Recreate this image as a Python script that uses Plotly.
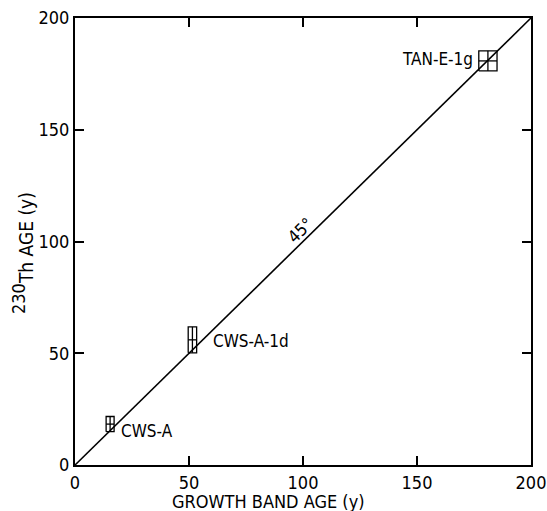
import plotly.graph_objects as go

# Coral samples: growth-band age vs 230Th age, with error boxes
names = ["CWS-A", "CWS-A-1d", "TAN-E-1g"]
band_age = [15.4, 51.5, 181.1]
band_err = [1.75, 1.85, 4.0]
th_age = [18.3, 56.0, 180.8]
th_err = [3.4, 5.8, 4.5]

ticks = [0, 50, 100, 150, 200]
FONT = "Liberation Sans Narrow, DejaVu Sans Condensed, Arial Narrow, Liberation Sans, sans-serif"

fig = go.Figure()

# 1:1 reference line
fig.add_trace(go.Scatter(x=[0, 200], y=[0, 200], mode="lines",
                         line=dict(color="black", width=1.6), hoverinfo="skip"))

# error boxes with a centre cross
for bx, ex, ty, ey in zip(band_age, band_err, th_age, th_err):
    x0, x1, y0, y1 = bx - ex, bx + ex, ty - ey, ty + ey
    xs = [x0, x1, x1, x0, x0, None, bx, bx, None, x0, x1]
    ys = [y0, y0, y1, y1, y0, None, y0, y1, None, ty, ty]
    fig.add_trace(go.Scatter(x=xs, y=ys, mode="lines",
                             line=dict(color="black", width=1.3), hoverinfo="skip"))

# sample labels
label_pos = [
    dict(x=band_age[0] + 3.8, y=th_age[0] - 3.3, xanchor="left"),
    dict(x=band_age[1] + 8.0, y=th_age[1] - 0.5, xanchor="left"),
    dict(x=band_age[2] - 5.5, y=th_age[2] + 1.0, xanchor="right"),
]
for name, pos in zip(names, label_pos):
    fig.add_annotation(text=name, x=pos["x"], y=pos["y"], xanchor=pos["xanchor"],
                       yanchor="middle", showarrow=False,
                       font=dict(family=FONT, size=17, color="black"))

fig.add_annotation(text="45°", x=99, y=105, showarrow=False, textangle=-44,
                   font=dict(family=FONT, size=17, color="black"))

# axis titles
fig.add_annotation(text="GROWTH BAND AGE (y)", xref="paper", yref="paper",
                   x=(268 - 75) / 456, y=-(502 - 465) / 447, showarrow=False,
                   xanchor="center", yanchor="middle",
                   font=dict(family=FONT, size=18, color="black"))
fig.add_annotation(text="<sup><span style='font-size:18px'>230</span></sup>Th AGE (y)",
                   xref="paper", yref="paper",
                   x=-(75 - 23) / 456, y=(465 - 253) / 447, showarrow=False,
                   textangle=-90, xanchor="center", yanchor="middle",
                   font=dict(family=FONT, size=19, color="black"))

axis_common = dict(range=[0, 200], tickvals=ticks, ticktext=[str(t) for t in ticks],
                   ticks="inside", ticklen=9, tickwidth=2, tickcolor="black",
                   showline=True, linecolor="black", linewidth=2, mirror="ticks",
                   showgrid=False, zeroline=False, automargin=False,
                   tickfont=dict(family=FONT, size=18, color="black"))

fig.update_xaxes(**axis_common)
fig.update_yaxes(**axis_common)

fig.update_layout(width=547, height=511, autosize=False, showlegend=False,
                  margin=dict(l=75, r=16, t=18, b=46),
                  plot_bgcolor="white", paper_bgcolor="white")

fig.write_html("out.html", config={"responsive": False})
